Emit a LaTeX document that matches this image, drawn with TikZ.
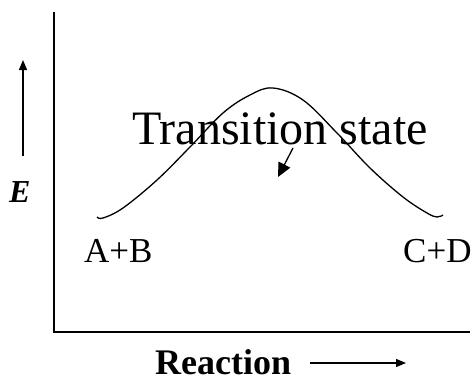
\documentclass[tikz,border=0pt]{standalone}
\usepackage{fontspec}
\setmainfont{Liberation Serif}
\usetikzlibrary{arrows.meta}

\begin{document}
\begin{tikzpicture}[x=1pt, y=1pt, >={Triangle[length=10pt,width=8pt]},
  lbl/.style={anchor=base west, inner sep=0pt}]

  \useasboundingbox (0,0) rectangle (476,376);

  % --- 1. 座標軸 ---
  \coordinate (O) at (54,44);
  \draw[line width=2.6pt] (54,364) -- (O) -- (470,44);

  % --- 2. エネルギー曲線 ---
  \draw[line width=1.3pt] plot[smooth, tension=0.6] coordinates {
    (97,159) (103,158) (123,168) (157,196) (190,229) (223,263) (250,281)
    (273,288) (303,276) (337,243) (370,208) (403,179) (427,163) (437,159) (443,161)};

  % --- 3. ラベル ---
  \node[lbl, font=\fontsize{48}{50}\selectfont] (ts) at (132,232) {Transition state};
  \node[lbl, font=\fontsize{35}{38}\selectfont] (AB) at (84,114) {A+B};
  \node[lbl, font=\fontsize{35}{38}\selectfont] (CD) at (403,114) {C+D};
  \node[lbl, font=\fontsize{32}{34}\selectfont\bfseries\itshape] (E) at (9,174) {E};
  \node[lbl, font=\fontsize{36}{38}\selectfont\bfseries] (rx) at (155,2) {Reaction};

  % --- 4. 矢印 ---
  \coordinate (Ea) at (23,220);
  \coordinate (Eb) at (23,316);
  \draw[->, line width=1.3pt] (Ea) -- (Eb);

  \coordinate (Ra) at (310,13);
  \coordinate (Rb) at (406,13);
  \draw[->, line width=1.3pt] (Ra) -- (Rb);

  \coordinate (Ta) at (293,228);
  \coordinate (Tb) at (278,199);
  \draw[-{Triangle[length=14pt,width=13pt]}, line width=1.3pt] (Ta) -- (Tb);

\end{tikzpicture}
\end{document}
